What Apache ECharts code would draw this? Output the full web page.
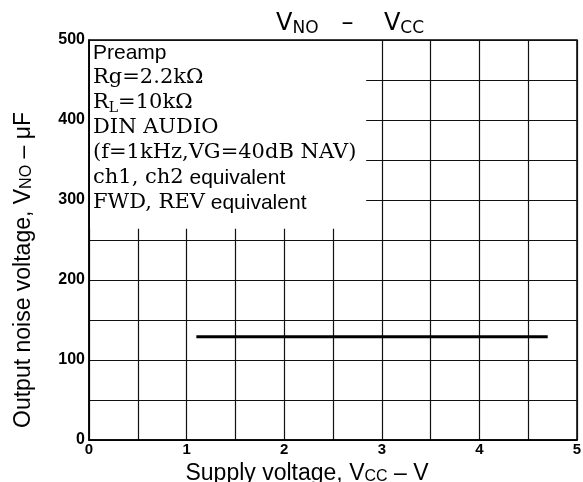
<!DOCTYPE html>
<html><head><meta charset="utf-8">
<script src="https://cdn.jsdelivr.net/npm/echarts@6/dist/echarts.min.js"></script>
<style>html,body{margin:0;padding:0;background:#fff}#c{width:583px;height:482px}</style>
</head><body><div id="c"></div>
<script>
// ---- data ----
const xMin = 0, xMax = 5, xStep = 0.5;
const yMin = 0, yMax = 500, yStep = 50;
const xTickLabels = [0, 1, 2, 3, 4, 5];
const yTickLabels = [0, 100, 200, 300, 400, 500];
const vccValues = [1.1, 4.7];
const vnoValues = [129, 129];
const noteLines = [
  [['sans', 'Preamp']],
  [['serif', 'Rg=2.2kΩ']],
  [['serif', 'R'], ['sub', 'L'], ['serif', '=10kΩ']],
  [['serif', 'DIN AUDIO']],
  [['serif', '(f=1kHz,VG=40dB NAV)']],
  [['serif', 'ch1, ch2'], ['sans', ' equivalent']],
  [['serif', 'FWD, REV'], ['sans', ' equivalent']]
];

const SANS = 'Liberation Sans';
const SERIF = 'DejaVu Serif';
const chart = echarts.init(document.getElementById('c'), null, {renderer: 'canvas'});

const noteRich = {
  sans: {fontFamily: SANS, fontSize: 21, color: '#000'},
  serif: {fontFamily: SERIF, fontSize: 21, color: '#000'},
  sub: {fontFamily: SERIF, fontSize: 14, color: '#000', padding: [10, 0, 0, 0]}
};

const option = {
  animation: false,
  backgroundColor: '#fff',
  title: {
    text: '{v|V}{s|NO}{v|   –    V}{s|CC}',
    left: 271, top: 5,
    textStyle: {
      fontWeight: 'normal',
      rich: {
        v: {fontFamily: 'DejaVu Sans', fontSize: 24, fontWeight: 'normal', color: '#000'},
        s: {fontFamily: 'DejaVu Sans', fontSize: 17, fontWeight: 'normal', color: '#000', padding: [10, 0, 0, 0]}
      }
    }
  },
  grid: {left: 89, right: 6, top: 40, bottom: 42, show: true, borderColor: '#000', borderWidth: 1.5,
         containLabel: false, outerBoundsMode: 'none'},
  xAxis: {
    type: 'value', min: xMin, max: xMax, interval: xStep,
    name: '{t|Supply voltage, V}{s|CC}{t| – V}',
    nameLocation: 'middle', nameGap: 8,
    nameTextStyle: {
      padding: [0, 52, 0, 0],
      rich: {
        t: {fontFamily: SANS, fontSize: 23, color: '#000'},
        s: {fontFamily: SANS, fontSize: 16, color: '#000', padding: [6, 0, 0, 0]}
      }
    },
    axisLine: {show: true, lineStyle: {color: '#000', width: 1.5}},
    axisTick: {show: false},
    axisLabel: {
      color: '#000', fontFamily: SANS, fontSize: 15, fontWeight: 'bold', margin: 2,
      formatter: v => xTickLabels.includes(v) ? String(v) : ''
    },
    splitLine: {show: true, lineStyle: {color: '#111', width: 1.2}}
  },
  yAxis: {
    type: 'value', min: yMin, max: yMax, interval: yStep,
    name: '{t|Output noise voltage, V}{s|NO}{t| – μF}',
    nameLocation: 'middle', nameGap: 54, nameRotate: 90,
    nameTextStyle: {
      padding: [0, 60, 0, 0],
      rich: {
        t: {fontFamily: SANS, fontSize: 23, color: '#000'},
        s: {fontFamily: SANS, fontSize: 16, color: '#000', padding: [6, 0, 0, 0]}
      }
    },
    axisLine: {show: true, lineStyle: {color: '#000', width: 1.5}},
    axisTick: {show: false},
    axisLabel: {
      color: '#000', fontFamily: SANS, fontSize: 16, fontWeight: 'bold', margin: 4,
      formatter: v => yTickLabels.includes(v) ? String(v) : ''
    },
    splitLine: {show: true, lineStyle: {color: '#111', width: 1.2}}
  },
  series: [{
    type: 'line',
    data: vccValues.map((x, i) => [x, vnoValues[i]]),
    showSymbol: false, symbol: 'none',
    lineStyle: {color: '#000', width: 3},
    z: 3
  }]
};
chart.setOption(option);

// annotation box (hides grid behind the notes)
const tl = chart.convertToPixel({gridIndex: 0}, [0, 500]);
const br = chart.convertToPixel({gridIndex: 0}, [2.84, 264]);
const graphics = [{
  type: 'rect', z: 5,
  shape: {x: tl[0] + 1, y: tl[1] + 1, width: br[0] - tl[0] - 1, height: br[1] - tl[1] - 1},
  style: {fill: '#fff'}
}];
noteLines.forEach((parts, i) => {
  graphics.push({
    type: 'text', z: 6,
    x: tl[0] + 4, y: tl[1] + 13 + i * 25,
    style: {
      text: parts.map(p => '{' + p[0] + '|' + p[1] + '}').join(''),
      rich: noteRich,
      verticalAlign: 'middle'
    }
  });
});
chart.setOption({graphic: graphics});
</script>
</body></html>
